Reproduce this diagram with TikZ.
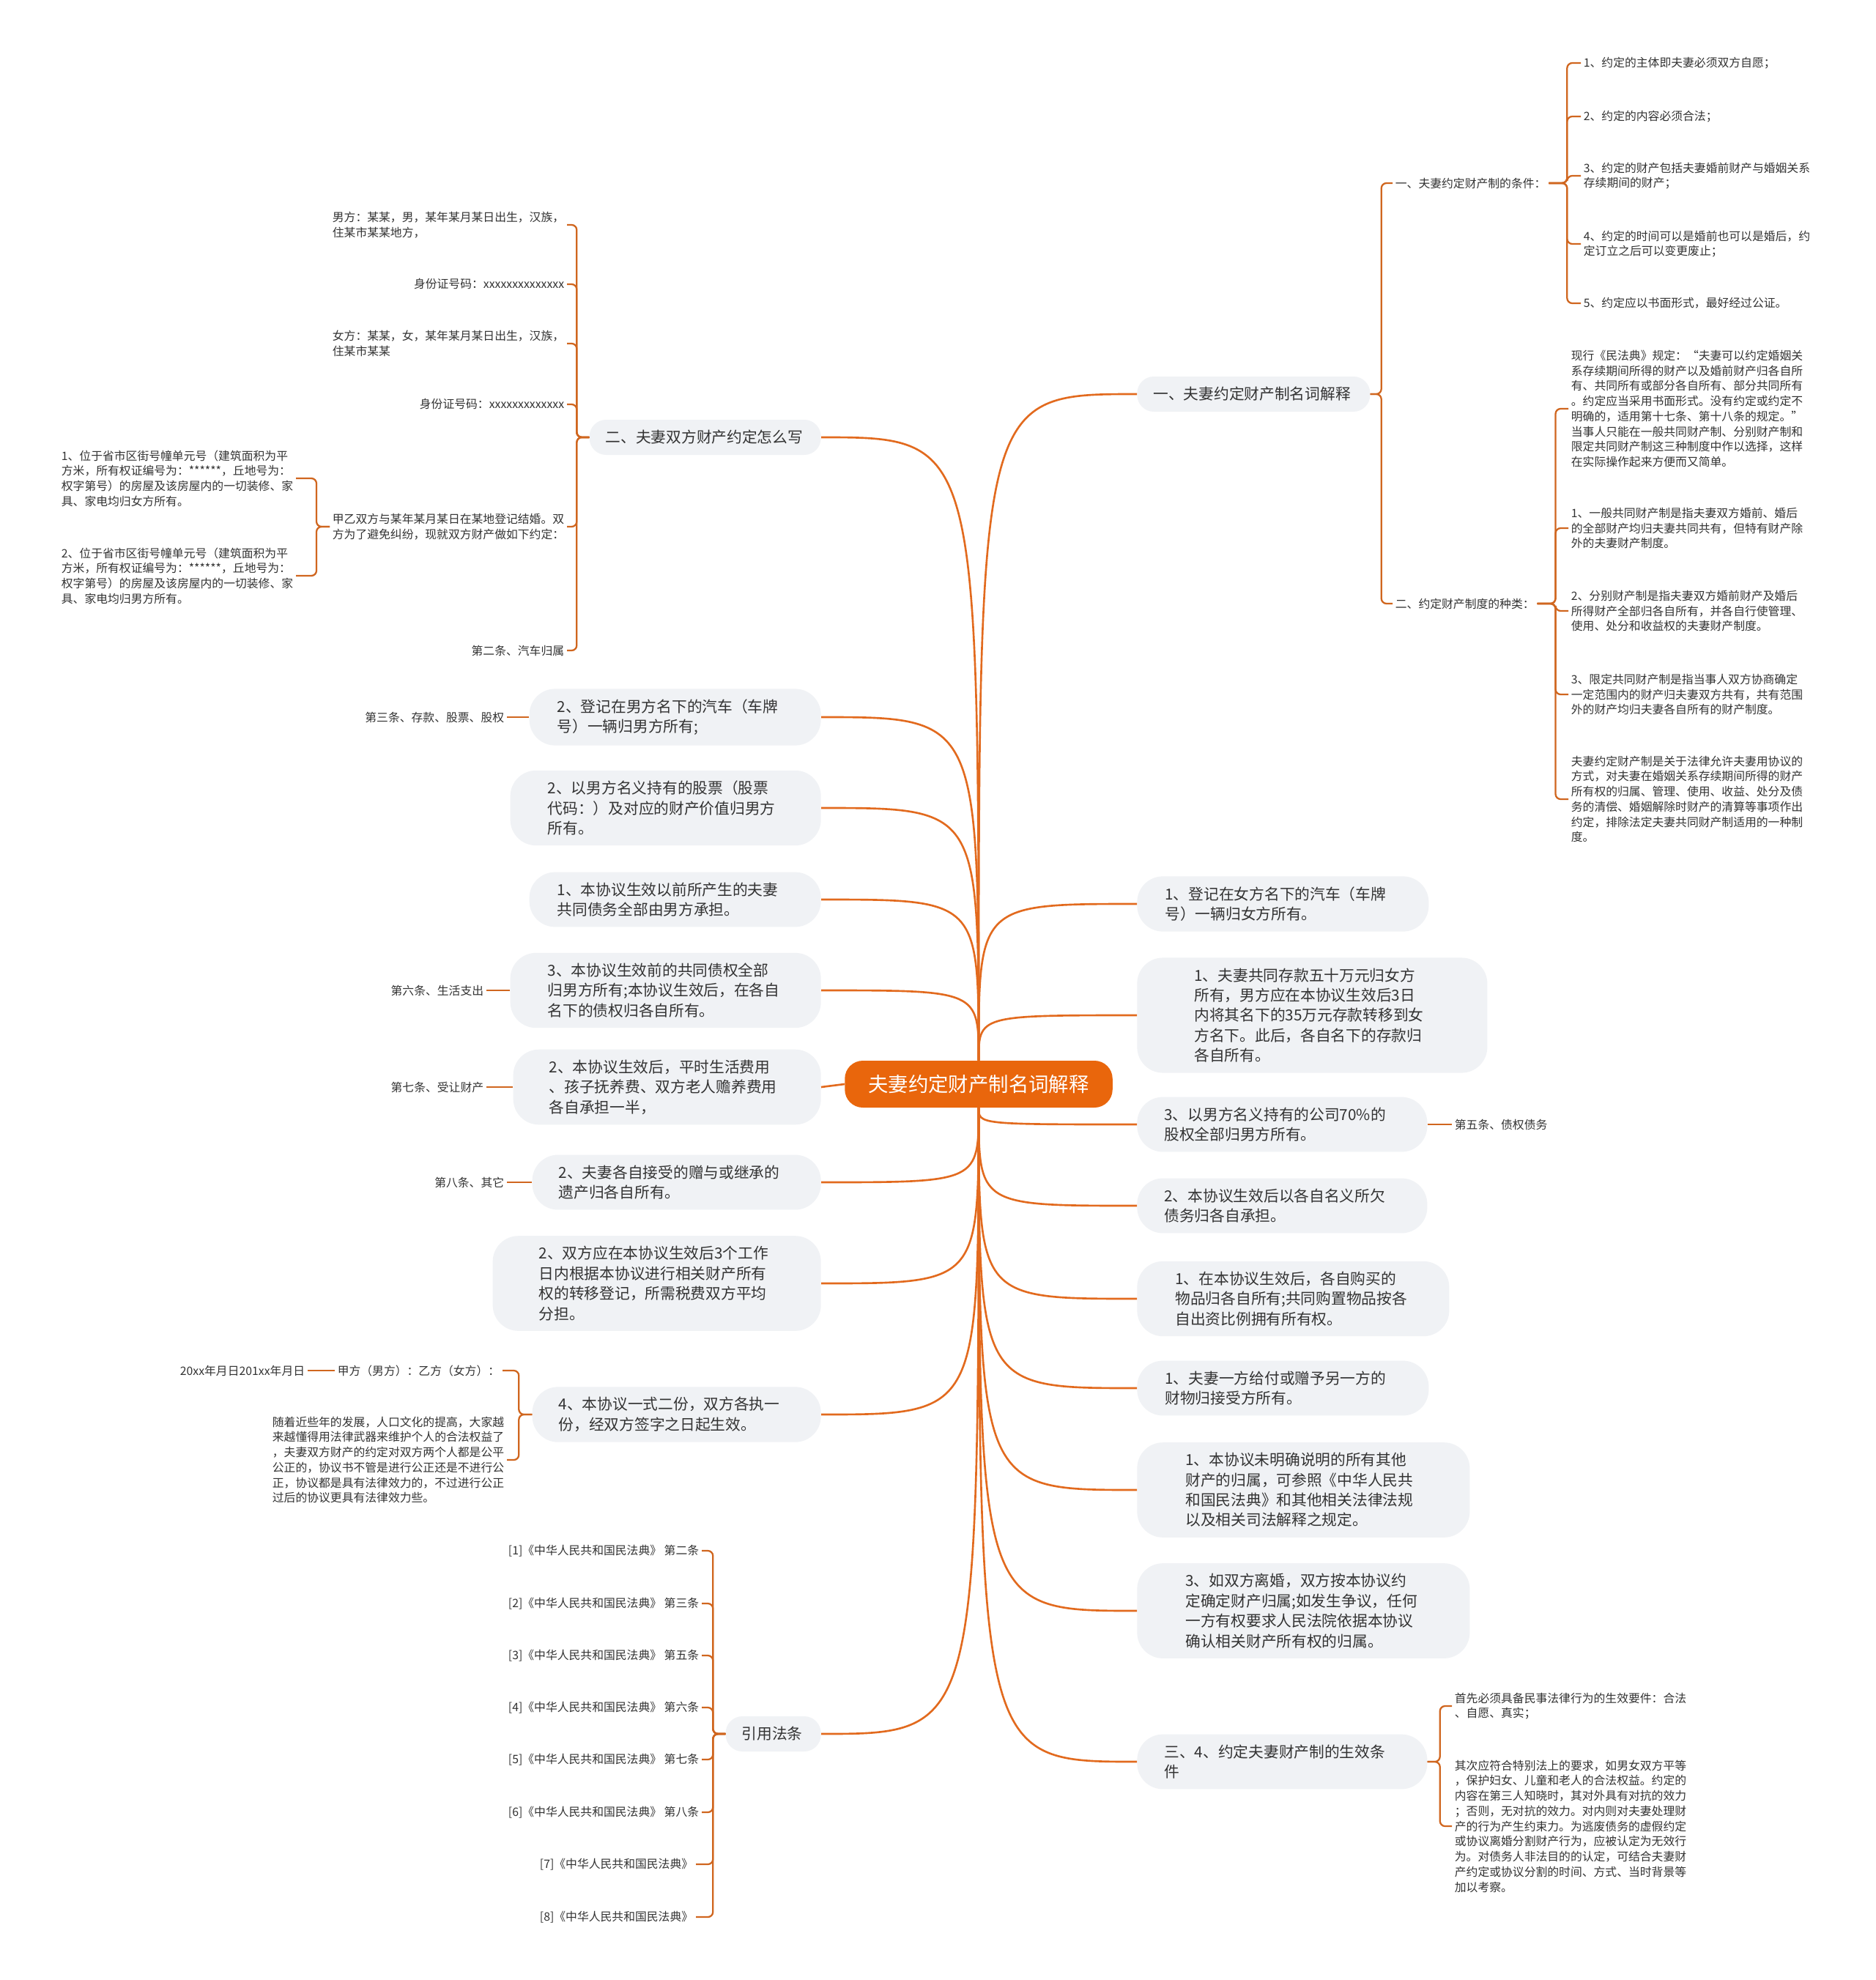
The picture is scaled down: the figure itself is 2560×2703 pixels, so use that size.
\documentclass[tikz,border=0pt]{standalone}
\usepackage{fontspec}
\setmainfont{Noto Sans CJK SC}
\usepackage{tikz}
\definecolor{linecol}{HTML}{E26A1E}
\definecolor{bracecol}{HTML}{D0661F}
\definecolor{hubcol}{HTML}{E9660C}
\definecolor{boxcol}{HTML}{F0F2F5}
\definecolor{txtcol}{HTML}{333333}
\newlength{\unitpx}
\setlength{\unitpx}{0.02cm}
\tikzset{
  hub/.style={fill=hubcol, text=white, rounded corners=14pt, minimum height=64\unitpx, inner xsep=32\unitpx, font=\fontsize{15.6pt}{18pt}\selectfont},
  topic/.style={fill=boxcol, text=txtcol, rounded corners=20pt, align=left, text width=322\unitpx, inner xsep=38\unitpx, inner ysep=8pt, font=\fontsize{11.8pt}{15.6pt}\selectfont},
  oneline/.style={rounded corners=13pt, minimum height=48\unitpx, inner xsep=22\unitpx},
  note/.style={text=txtcol, align=left, inner sep=2pt, font=\fontsize{9pt}{11.8pt}\selectfont},
  link/.style={draw=linecol, line width=1.5pt},
  brace/.style={draw=bracecol, line width=1.3pt, rounded corners=4pt},
}
\begin{document}
\begin{tikzpicture}[x=0.02cm, y=-0.02cm]
\fill[white] (0,0) rectangle (2560,2703);
\useasboundingbox (0,0) rectangle (2560,2703);

\node[hub] (root) at (1336,1480) {夫妻约定财产制名词解释};

\node[topic, oneline, anchor=west, text width=274\unitpx] (r1) at (1552,538) {一、夫妻约定财产制名词解释};
\node[topic, anchor=west, inner xsep=38\unitpx] (r2) at (1552,1234) {1、登记在女方名下的汽车（车牌\\号）一辆归女方所有。};
\node[topic, anchor=west, inner xsep=78\unitpx] (r3) at (1552,1386) {1、夫妻共同存款五十万元归女方\\所有，男方应在本协议生效后3日\\内将其名下的35万元存款转移到女\\方名下。此后，各自名下的存款归\\各自所有。};
\node[topic, anchor=west, inner xsep=37\unitpx] (r4) at (1552,1535) {3、以男方名义持有的公司70\%的\\股权全部归男方所有。};
\node[topic, anchor=west, inner xsep=37\unitpx] (r5) at (1552,1646) {2、本协议生效后以各自名义所欠\\债务归各自承担。};
\node[topic, anchor=west, inner xsep=52\unitpx] (r6) at (1552,1773) {1、在本协议生效后，各自购买的\\物品归各自所有;共同购置物品按各\\自出资比例拥有所有权。};
\node[topic, anchor=west, inner xsep=38\unitpx] (r7) at (1552,1895) {1、夫妻一方给付或赠予另一方的\\财物归接受方所有。};
\node[topic, anchor=west, inner xsep=66\unitpx] (r8) at (1552,2034) {1、本协议未明确说明的所有其他\\财产的归属，可参照《中华人民共\\和国民法典》和其他相关法律法规\\以及相关司法解释之规定。};
\node[topic, anchor=west, inner xsep=66\unitpx] (r9) at (1552,2199) {3、如双方离婚，双方按本协议约\\定确定财产归属;如发生争议，任何\\一方有权要求人民法院依据本协议\\确认相关财产所有权的归属。};
\node[topic, anchor=west, inner xsep=37\unitpx] (r10) at (1552,2405) {三、4、约定夫妻财产制的生效条\\件};

\node[topic, oneline, anchor=east, text width=272\unitpx] (l1) at (1121,597) {二、夫妻双方财产约定怎么写};
\node[topic, anchor=east, inner xsep=38\unitpx] (l2) at (1121,979) {2、登记在男方名下的汽车（车牌\\号）一辆归男方所有;};
\node[topic, anchor=east, inner xsep=51\unitpx] (l3) at (1121,1103) {2、以男方名义持有的股票（股票\\代码：）及对应的财产价值归男方\\所有。};
\node[topic, anchor=east, inner xsep=38\unitpx] (l4) at (1121,1228) {1、本协议生效以前所产生的夫妻\\共同债务全部由男方承担。};
\node[topic, anchor=east, inner xsep=51\unitpx] (l5) at (1121,1352) {3、本协议生效前的共同债权全部\\归男方所有;本协议生效后，在各自\\名下的债权归各自所有。};
\node[topic, anchor=east, inner xsep=49\unitpx] (l6) at (1121,1484) {2、本协议生效后，平时生活费用\\、孩子抚养费、双方老人赡养费用\\各自承担一半，};
\node[topic, anchor=east, inner xsep=36\unitpx] (l7) at (1121,1614) {2、夫妻各自接受的赠与或继承的\\遗产归各自所有。};
\node[topic, anchor=east, inner xsep=63\unitpx] (l8) at (1121,1752) {2、双方应在本协议生效后3个工作\\日内根据本协议进行相关财产所有\\权的转移登记，所需税费双方平均\\分担。};
\node[topic, anchor=east, inner xsep=36\unitpx] (l9) at (1121,1931) {4、本协议一式二份，双方各执一\\份，经双方签字之日起生效。};
\node[topic, oneline, anchor=east, text width=86\unitpx] (l10) at (1121,2367) {引用法条};

\node[note, anchor=west] (cond) at (1901,250) {一、夫妻约定财产制的条件：};
\node[note, anchor=west] (kind) at (1901,824) {二、约定财产制度的种类：};
\node[note, anchor=west] (cond1) at (2158,86) {1、约定的主体即夫妻必须双方自愿；};
\node[note, anchor=west] (cond2) at (2158,159) {2、约定的内容必须合法；};
\node[note, anchor=west] (cond3) at (2158,240) {3、约定的财产包括夫妻婚前财产与婚姻关系\\存续期间的财产；};
\node[note, anchor=west] (cond4) at (2158,333) {4、约定的时间可以是婚前也可以是婚后，约\\定订立之后可以变更废止；};
\node[note, anchor=west] (cond5) at (2158,414) {5、约定应以书面形式，最好经过公证。};
\node[note, anchor=west] (kind0) at (2141,558) {现行《民法典》规定：“夫妻可以约定婚姻关\\系存续期间所得的财产以及婚前财产归各自所\\有、共同所有或部分各自所有、部分共同所有\\。约定应当采用书面形式。没有约定或约定不\\明确的，适用第十七条、第十八条的规定。”\\当事人只能在一般共同财产制、分别财产制和\\限定共同财产制这三种制度中作以选择，这样\\在实际操作起来方便而又简单。};
\node[note, anchor=west] (kind1) at (2141,721) {1、一般共同财产制是指夫妻双方婚前、婚后\\的全部财产均归夫妻共同共有，但特有财产除\\外的夫妻财产制度。};
\node[note, anchor=west] (kind2) at (2141,834) {2、分别财产制是指夫妻双方婚前财产及婚后\\所得财产全部归各自所有，并各自行使管理、\\使用、处分和收益权的夫妻财产制度。};
\node[note, anchor=west] (kind3) at (2141,948) {3、限定共同财产制是指当事人双方协商确定\\一定范围内的财产归夫妻双方共有，共有范围\\外的财产均归夫妻各自所有的财产制度。};
\node[note, anchor=west] (kind4) at (2141,1091) {夫妻约定财产制是关于法律允许夫妻用协议的\\方式，对夫妻在婚姻关系存续期间所得的财产\\所有权的归属、管理、使用、收益、处分及债\\务的清偿、婚姻解除时财产的清算等事项作出\\约定，排除法定夫妻共同财产制适用的一种制\\度。};
\node[note, anchor=west] (debt) at (1982,1535) {第五条、债权债务};
\node[note, anchor=west] (valid1) at (1982,2329) {首先必须具备民事法律行为的生效要件：合法\\、自愿、真实；};
\node[note, anchor=west] (valid2) at (1982,2493) {其次应符合特别法上的要求，如男女双方平等\\，保护妇女、儿童和老人的合法权益。约定的\\内容在第三人知晓时，其对外具有对抗的效力\\；否则，无对抗的效力。对内则对夫妻处理财\\产的行为产生约束力。为逃废债务的虚假约定\\或协议离婚分割财产行为，应被认定为无效行\\为。对债务人非法目的的认定，可结合夫妻财\\产约定或协议分割的时间、方式、当时背景等\\加以考察。};

\node[note, anchor=east] (man) at (774,307) {男方：某某，男，某年某月某日出生，汉族，\\住某市某某地方，};
\node[note, anchor=east] (id1) at (774,388) {身份证号码：xxxxxxxxxxxxxx};
\node[note, anchor=east] (woman) at (774,469) {女方：某某，女，某年某月某日出生，汉族，\\住某市某某};
\node[note, anchor=east] (id2) at (774,552) {身份证号码：xxxxxxxxxxxxx};
\node[note, anchor=east] (marry) at (774,719) {甲乙双方与某年某月某日在某地登记结婚。双\\方为了避免纠纷，现就双方财产做如下约定：};
\node[note, anchor=east] (car) at (774,888) {第二条、汽车归属};
\node[note, anchor=east] (house1) at (404,653) {1、位于省市区街号幢单元号（建筑面积为平\\方米，所有权证编号为：******，丘地号为：\\权字第号）的房屋及该房屋内的一切装修、家\\具、家电均归女方所有。};
\node[note, anchor=east] (house2) at (404,786) {2、位于省市区街号幢单元号（建筑面积为平\\方米，所有权证编号为：******，丘地号为：\\权字第号）的房屋及该房屋内的一切装修、家\\具、家电均归男方所有。};
\node[note, anchor=east] (stock) at (692,979) {第三条、存款、股票、股权};
\node[note, anchor=east] (life) at (664,1352) {第六条、生活支出};
\node[note, anchor=east] (transfer) at (664,1484) {第七条、受让财产};
\node[note, anchor=east] (other) at (692,1614) {第八条、其它};
\node[note, anchor=east] (sign) at (686,1871) {甲方（男方）：乙方（女方）：};
\node[note, anchor=east] (date) at (420,1871) {20xx年月日201xx年月日};
\node[note, anchor=east] (remark) at (692,1993) {随着近些年的发展，人口文化的提高，大家越\\来越懂得用法律武器来维护个人的合法权益了\\，夫妻双方财产的约定对双方两个人都是公平\\公正的，协议书不管是进行公正还是不进行公\\正，协议都是具有法律效力的，不过进行公正\\过后的协议更具有法律效力些。};
\node[note, anchor=east] (law1) at (958,2117) {[1]《中华人民共和国民法典》 第二条};
\node[note, anchor=east] (law2) at (958,2189) {[2]《中华人民共和国民法典》 第三条};
\node[note, anchor=east] (law3) at (958,2260) {[3]《中华人民共和国民法典》 第五条};
\node[note, anchor=east] (law4) at (958,2331) {[4]《中华人民共和国民法典》 第六条};
\node[note, anchor=east] (law5) at (958,2402) {[5]《中华人民共和国民法典》 第七条};
\node[note, anchor=east] (law6) at (958,2474) {[6]《中华人民共和国民法典》 第八条};
\node[note, anchor=east] (law7) at (950,2545) {[7]《中华人民共和国民法典》};
\node[note, anchor=east] (law8) at (950,2617) {[8]《中华人民共和国民法典》};

\draw[link] (root.north) .. controls (root.north |- r1.west) .. (r1.west);
\draw[link] (root.north) .. controls (root.north |- r2.west) .. (r2.west);
\draw[link] (root.north) .. controls (root.north |- r3.west) .. (r3.west);
\draw[link] (root.south) .. controls (root.south |- r4.west) .. (r4.west);
\draw[link] (root.south) .. controls (root.south |- r5.west) .. (r5.west);
\draw[link] (root.south) .. controls (root.south |- r6.west) .. (r6.west);
\draw[link] (root.south) .. controls (root.south |- r7.west) .. (r7.west);
\draw[link] (root.south) .. controls (root.south |- r8.west) .. (r8.west);
\draw[link] (root.south) .. controls (root.south |- r9.west) .. (r9.west);
\draw[link] (root.south) .. controls (root.south |- r10.west) .. (r10.west);
\draw[link] (root.north) .. controls (root.north |- l1.east) .. (l1.east);
\draw[link] (root.north) .. controls (root.north |- l2.east) .. (l2.east);
\draw[link] (root.north) .. controls (root.north |- l3.east) .. (l3.east);
\draw[link] (root.north) .. controls (root.north |- l4.east) .. (l4.east);
\draw[link] (root.north) .. controls (root.north |- l5.east) .. (l5.east);
\draw[link] (root.west) -- (l6.east);
\draw[link] (root.south) .. controls (root.south |- l7.east) .. (l7.east);
\draw[link] (root.south) .. controls (root.south |- l8.east) .. (l8.east);
\draw[link] (root.south) .. controls (root.south |- l9.east) .. (l9.east);
\draw[link] (root.south) .. controls (root.south |- l10.east) .. (l10.east);

\draw[brace] (r1.east) -- ++(15,0) |- (cond.west);
\draw[brace] (r1.east) -- ++(15,0) |- (kind.west);
\draw[brace] (cond.east) -- ++(25,0) |- (cond1.west);
\draw[brace] (cond.east) -- ++(25,0) |- (cond2.west);
\draw[brace] (cond.east) -- ++(25,0) |- (cond3.west);
\draw[brace] (cond.east) -- ++(25,0) |- (cond4.west);
\draw[brace] (cond.east) -- ++(25,0) |- (cond5.west);
\draw[brace] (kind.east) -- ++(25,0) |- (kind0.west);
\draw[brace] (kind.east) -- ++(25,0) |- (kind1.west);
\draw[brace] (kind.east) -- ++(25,0) |- (kind2.west);
\draw[brace] (kind.east) -- ++(25,0) |- (kind3.west);
\draw[brace] (kind.east) -- ++(25,0) |- (kind4.west);
\draw[brace] (r4.east) -- (debt.west);
\draw[brace] (r10.east) -- ++(17,0) |- (valid1.west);
\draw[brace] (r10.east) -- ++(17,0) |- (valid2.west);

\draw[brace] (l1.west) -- ++(-17,0) |- (man.east);
\draw[brace] (l1.west) -- ++(-17,0) |- (id1.east);
\draw[brace] (l1.west) -- ++(-17,0) |- (woman.east);
\draw[brace] (l1.west) -- ++(-17,0) |- (id2.east);
\draw[brace] (l1.west) -- ++(-17,0) |- (marry.east);
\draw[brace] (l1.west) -- ++(-17,0) |- (car.east);
\draw[brace] (marry.west) -- ++(-18,0) |- (house1.east);
\draw[brace] (marry.west) -- ++(-18,0) |- (house2.east);
\draw[brace] (l2.west) -- (stock.east);
\draw[brace] (l5.west) -- (life.east);
\draw[brace] (l6.west) -- (transfer.east);
\draw[brace] (l7.west) -- (other.east);
\draw[brace] (l9.west) -- ++(-18,0) |- (sign.east);
\draw[brace] (l9.west) -- ++(-18,0) |- (remark.east);
\draw[brace] (sign.west) -- (date.east);
\draw[brace] (l10.west) -- ++(-17,0) |- (law1.east);
\draw[brace] (l10.west) -- ++(-17,0) |- (law2.east);
\draw[brace] (l10.west) -- ++(-17,0) |- (law3.east);
\draw[brace] (l10.west) -- ++(-17,0) |- (law4.east);
\draw[brace] (l10.west) -- ++(-17,0) |- (law5.east);
\draw[brace] (l10.west) -- ++(-17,0) |- (law6.east);
\draw[brace] (l10.west) -- ++(-17,0) |- (law7.east);
\draw[brace] (l10.west) -- ++(-17,0) |- (law8.east);
\end{tikzpicture}
\end{document}
